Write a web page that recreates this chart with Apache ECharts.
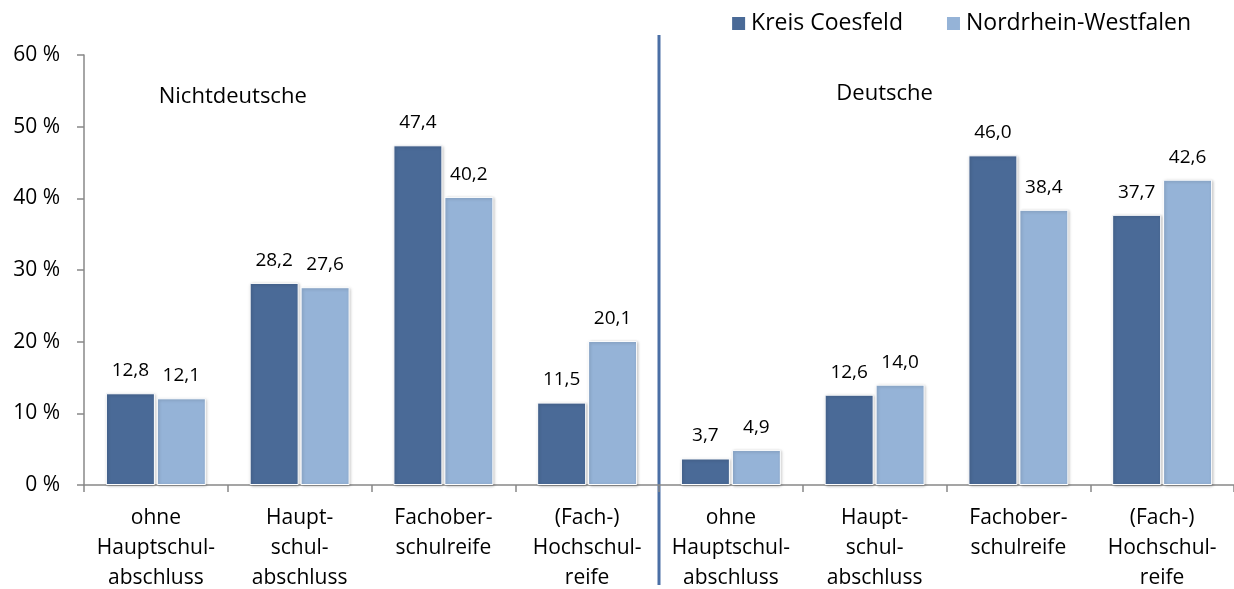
<!DOCTYPE html>
<html>
<head>
<meta charset="utf-8">
<script src="https://cdn.jsdelivr.net/npm/echarts@6/dist/echarts.min.js"></script>
<style>
  html, body { margin: 0; padding: 0; background: #fff; }
  #chart { width: 1234px; height: 589px; }
</style>
</head>
<body>
<div id="chart"></div>
<script>
const categories = [
  'ohne\nHauptschul-\nabschluss', 'Haupt-\nschul-\nabschluss', 'Fachober-\nschulreife', '(Fach-)\nHochschul-\nreife',
  'ohne\nHauptschul-\nabschluss', 'Haupt-\nschul-\nabschluss', 'Fachober-\nschulreife', '(Fach-)\nHochschul-\nreife'
];
const coesfeld = [12.8, 28.2, 47.4, 11.5, 3.7, 12.6, 46.0, 37.7];
const nrw = [12.1, 27.6, 40.2, 20.1, 4.9, 14.0, 38.4, 42.6];
const groupLabels = ['Nichtdeutsche', 'Deutsche'];

const font = '"Open Sans", sans-serif';
const chart = echarts.init(document.getElementById('chart'));

function label() {
  return {
    show: true,
    position: 'top',
    distance: 13,
    fontFamily: font,
    fontSize: 19,
    color: '#000',
    formatter: p => p.value.toFixed(1).replace('.', ',')
  };
}
const barStyle = c => ({
  color: c,
  borderColor: '#fff',
  borderWidth: 1,
  shadowColor: 'rgba(0,0,0,0.25)',
  shadowBlur: 3,
  shadowOffsetX: 1,
  shadowOffsetY: 1
});

chart.setOption({
  animation: false,
  textStyle: { fontFamily: font },
  legend: {
    top: 7,
    right: 38,
    itemWidth: 15,
    itemHeight: 15,
    itemGap: 42,
    icon: 'rect',
    textStyle: { fontSize: 23, color: '#000', fontFamily: font },
    data: ['Kreis Coesfeld', 'Nordrhein-Westfalen']
  },
  grid: { left: 84, right: 0, top: 55, bottom: 104, containLabel: false, outerBoundsMode: 'none' },
  xAxis: {
    type: 'category',
    data: categories,
    axisLine: { lineStyle: { color: '#888', width: 1.5 } },
    axisTick: { show: true, length: 7, alignWithLabel: false, lineStyle: { color: '#888', width: 1.5 } },
    axisLabel: { fontSize: 21, color: '#000', lineHeight: 30, margin: 18, interval: 0, fontFamily: font }
  },
  yAxis: {
    type: 'value',
    min: 0,
    max: 60,
    interval: 10,
    splitLine: { show: false },
    axisLine: { show: true, lineStyle: { color: '#888', width: 1.5 } },
    axisTick: { show: true, inside: false, length: 7, lineStyle: { color: '#888', width: 1.5 } },
    axisLabel: { fontSize: 21, color: '#000', margin: 24, formatter: '{value} %', fontFamily: font }
  },
  series: [
    { name: 'Kreis Coesfeld', type: 'bar', data: coesfeld, barWidth: 49, barGap: '4%', itemStyle: barStyle('#4A6A97'), label: label() },
    { name: 'Nordrhein-Westfalen', type: 'bar', data: nrw, barWidth: 49, barGap: '4%', itemStyle: barStyle('#95B3D7'), label: label() }
  ]
});

// Trennlinie zwischen den beiden Gruppen + Gruppentitel
const xLeft = chart.convertToPixel({ xAxisIndex: 0 }, 0);
const xNext = chart.convertToPixel({ xAxisIndex: 0 }, 1);
const step = xNext - xLeft;
const xDiv = chart.convertToPixel({ xAxisIndex: 0 }, 3) + step / 2;
const yTop = chart.convertToPixel({ yAxisIndex: 0 }, 60);

chart.setOption({
  graphic: [
    { type: 'line', shape: { x1: xDiv, y1: 35, x2: xDiv, y2: 585 }, style: { stroke: '#4A6FA5', lineWidth: 3 } },
    { type: 'text', x: xLeft + step / 2 + 5, y: yTop + 42, style: { text: groupLabels[0], fontSize: 22, fontFamily: font, fill: '#000', textAlign: 'center', textVerticalAlign: 'middle' } },
    { type: 'text', x: chart.convertToPixel({ xAxisIndex: 0 }, 5) + 10, y: yTop + 39, style: { text: groupLabels[1], fontSize: 22, fontFamily: font, fill: '#000', textAlign: 'center', textVerticalAlign: 'middle' } }
  ]
});
</script>
</body>
</html>
